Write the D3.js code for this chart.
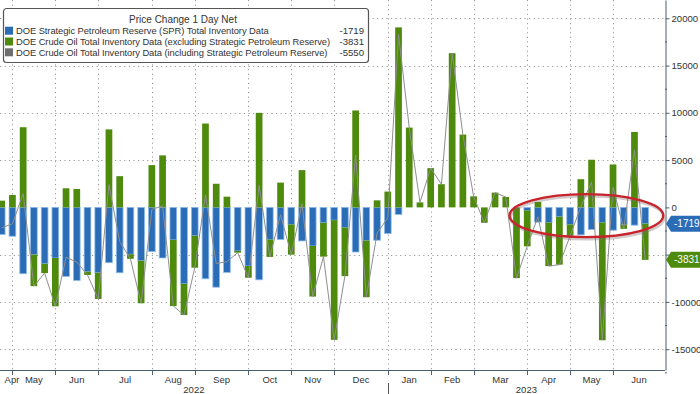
<!DOCTYPE html>
<html>
<head>
<meta charset="utf-8">
<script src="https://cdnjs.cloudflare.com/ajax/libs/d3/7.8.5/d3.min.js"></script>
<style>
body { margin: 0; background: #fff; }
svg { display: block; font-family: "Liberation Sans", Arial, sans-serif; }
.grid line { stroke: #9a9a9a; stroke-dasharray: 1.2,3.4; }
.y-axis .domain { stroke: #4d5e70; }
.y-axis .tick line { stroke: #4d5e70; }
.y-axis .tick text { fill: #333; font-size: 9.6px; }
</style>
</head>
<body>
<div id="chart-area"></div>
<script>

// Weekly changes, thousand barrels (week dates as on the chart axis)
var weeks = d3.timeFriday.range(new Date(2022, 3, 29), new Date(2023, 5, 24));

// DOE SPR weekly change
var spr = [-2870, -3050, -7020, -5000, -5960, -5350, -7300, -7730, -6800, -6915,
	-5850, -6915, -4960, -5640, -4680, -5350, -3440, -8085, -3010, -7550,
	-8440, -6880, -4610, -6200, -7660, -3400, -3400, -1810, -3550, -4080,
	-1630, -1350, -2130, -4720, -3510, -3475, -2770, -745, 0, 0,
	0, 0, 0, 0, 0, 0, 0, 0, 0, -320,
	-1560, -1600, -990, -1810, -2910, -2340, -1600, -2410, -1810, -1880,
	-1719];

// DOE crude oil ex SPR weekly change
var crude = [710, 1310, 8480, -3330, -990, -5110, 2020, 1950, -350, -2770,
	8250, 3300, -480, -4500, 4470, 5500, -7000, -3300, -3370, 8870,
	2500, 1135, -180, -1240, 10000, -1840, 2620, -3190, 3940, -5350,
	-3580, -12660, -5140, 10250, -5990, 745, 1670, 19040, 8440, 530,
	4150, 2450, 16310, 7700, 1170, -1630, 1560, 1100, -7480, -3800,
	570, -4610, -5070, -1200, 2980, 5040, -12450, 4540, -460, 7980,
	-3831];

// DOE crude oil incl SPR weekly change
var total = [-2160, -1740, 1460, -8330, -6950, -10460, -5280, -5780, -7150, -9685,
	2400, -3615, -5440, -10140, -210, 150, -10440, -11385, -6380, 1320,
	-5940, -5745, -4790, -7440, 2340, -5240, -780, -5000, 390, -9430,
	-5210, -14010, -7270, 5530, -9500, -2730, -1100, 18295, 8440, 530,
	4150, 2450, 16310, 7700, 1170, -1630, 1560, 1100, -7480, -4120,
	-990, -6210, -6060, -3010, 70, 2700, -14050, 2130, -2270, 6100,
	-5550];

var yTicks = [-15000, -10000, -5000, 5000, 10000, 15000, 20000];
var seriesNames = ["DOE Strategic Petroleum Reserve (SPR) Total Inventory Data",
	"DOE Crude Oil Total Inventory Data (excluding Strategic Petroleum Reserve)",
	"DOE Crude Oil Total Inventory Data (including Strategic Petroleum Reserve)"];
var lastValues = [-1719, -3831, -5550];
var colors = ["#2b6cb6", "#4e8a0c", "#6e6e6e"];

var width = 665, height = 370;
var stepW = 10.725;

var svg = d3.select("#chart-area").append("svg")
	.attr("width", 700)
	.attr("height", 394);

svg.append("rect").attr("width", 700).attr("height", 394).attr("fill", "#fff");

// Scales
var x = d3.scaleBand()
	.domain(weeks)
	.range([-3.66, -3.66 + weeks.length * stepW])
	.paddingInner(0.3)
	.paddingOuter(0.15);

var y = d3.scaleLinear()
	.domain([-17200, 21935])
	.range([height, 0]);

function cx(d) { return x(d) + x.bandwidth() / 2; }

// first week of each month
var monthStarts = weeks.filter(function(d, i) {
	return i > 0 && d.getMonth() != weeks[i - 1].getMonth();
});

var plot = svg.append("g");
plot.append("clipPath").attr("id", "clip")
	.append("rect").attr("width", width).attr("height", height);

// Gridlines
var grid = plot.append("g").attr("class", "grid");
grid.selectAll(".hg").data(yTicks).enter().append("line")
	.attr("x1", 0).attr("x2", width)
	.attr("y1", function(d) { return Math.round(y(d)) + 0.5; })
	.attr("y2", function(d) { return Math.round(y(d)) + 0.5; });
grid.selectAll(".vg").data(monthStarts).enter().append("line")
	.attr("y1", 0).attr("y2", height)
	.attr("x1", function(d) { return Math.round(cx(d)) + 0.5; })
	.attr("x2", function(d) { return Math.round(cx(d)) + 0.5; });

// Stacked bars
var rows = weeks.map(function(d, i) {
	return {date: d, spr: spr[i], crude: crude[i], total: total[i]};
});
var stacked = d3.stack().keys(["spr", "crude"]).offset(d3.stackOffsetDiverging)(rows);

var layers = plot.append("g").attr("clip-path", "url(#clip)")
	.selectAll(".layer").data(stacked).enter().append("g")
	.attr("class", "layer")
	.attr("fill", function(d, i) { return colors[i]; })
	.attr("stroke", function(d, i) { return i == 0 ? "#8dbbe9" : "none"; })
	.attr("stroke-width", 0.8);

layers.selectAll("rect").data(function(d) { return d; }).enter()
	.filter(function(d) { return d[1] != d[0]; })
	.append("rect")
	.attr("x", function(d) { return x(d.data.date) + 0.4; })
	.attr("width", x.bandwidth() - 0.8)
	.attr("y", function(d) { return y(Math.max(d[0], d[1])); })
	.attr("height", function(d) { return Math.abs(y(d[0]) - y(d[1])); });

// Total line
var line = d3.line()
	.x(function(d) { return cx(d.date); })
	.y(function(d) { return y(d.total); });

plot.append("path")
	.attr("clip-path", "url(#clip)")
	.attr("d", line(rows))
	.attr("fill", "none")
	.attr("stroke", "#8e8e8e")
	.attr("stroke-width", 1);

// Red ellipse annotation around the recent SPR bars
var eLeft = x(weeks[48]) - 3.2, eRight = cx(weeks[60]) + 18;
var eCy = y(-870);
plot.append("ellipse")
	.attr("cx", (eLeft + eRight) / 2 + 1).attr("cy", eCy + 2)
	.attr("rx", (eRight - eLeft) / 2).attr("ry", 21.5)
	.attr("fill", "none").attr("stroke", "#7a6a6a").attr("stroke-opacity", 0.35).attr("stroke-width", 3);
plot.append("ellipse")
	.attr("cx", (eLeft + eRight) / 2).attr("cy", eCy)
	.attr("rx", (eRight - eLeft) / 2).attr("ry", 21.5)
	.attr("fill", "none").attr("stroke", "#c9232b").attr("stroke-width", 2.4);

// Bottom axis
svg.append("line")
	.attr("x1", 0).attr("x2", width)
	.attr("y1", height + 0.5).attr("y2", height + 0.5)
	.attr("stroke", "#4d5e70");

svg.selectAll(".mtick").data(monthStarts).enter().append("line")
	.attr("x1", function(d) { return Math.round(cx(d)) + 0.5; })
	.attr("x2", function(d) { return Math.round(cx(d)) + 0.5; })
	.attr("y1", height).attr("y2", height + 5)
	.attr("stroke", "#4d5e70");

// month labels centred between month ticks
var bounds = [0].concat(monthStarts.map(cx)).concat([width]);
var monthDates = [weeks[0]].concat(monthStarts);
svg.selectAll(".mlabel").data(monthDates).enter().append("text")
	.attr("x", function(d, i) { return Math.max((bounds[i] + bounds[i + 1]) / 2, 12); })
	.attr("y", 383)
	.attr("text-anchor", "middle")
	.attr("font-size", 9.5)
	.attr("fill", "#333")
	.text(d3.timeFormat("%b"));

var jan = monthStarts.filter(function(d) { return d.getMonth() == 0; })[0];
svg.append("line")
	.attr("x1", Math.round(cx(jan)) + 0.5).attr("x2", Math.round(cx(jan)) + 0.5)
	.attr("y1", 383).attr("y2", 394)
	.attr("stroke", "#555");
svg.selectAll(".ylabel").data([[0, cx(jan), "2022"], [cx(jan), width, "2023"]]).enter().append("text")
	.attr("x", function(d) { return (d[0] + d[1]) / 2; })
	.attr("y", 393)
	.attr("text-anchor", "middle")
	.attr("font-size", 9.5)
	.attr("fill", "#333")
	.text(function(d) { return d[2]; });

// Right axis
var yAxis = d3.axisRight(y)
	.tickValues(d3.range(-15000, 20001, 5000))
	.tickSize(4)
	.tickSizeOuter(0)
	.tickPadding(2)
	.tickFormat(function(d) { return d; });

svg.append("g")
	.attr("class", "axis y-axis")
	.attr("transform", "translate(" + (width + 0.5) + ",0)")
	.call(yAxis);

svg.selectAll(".minor").data(d3.range(-17500, 21000, 2500).filter(function(d) { return d % 5000 != 0; }))
	.enter().append("line")
	.attr("x1", width).attr("x2", width + 2)
	.attr("y1", function(d) { return y(d); }).attr("y2", function(d) { return y(d); })
	.attr("stroke", "#4d5e70");

// Last value tags
var tags = [{v: lastValues[0], at: lastValues[0], c: colors[0]},
	{v: lastValues[1], at: lastValues[2], c: colors[1]}];
var tag = svg.selectAll(".tag").data(tags).enter().append("g")
	.attr("transform", function(d) { return "translate(" + width + "," + y(d.at) + ")"; });
tag.append("path")
	.attr("d", "M1,0 L6,-8 L36,-8 L36,8 L6,8 Z")
	.attr("fill", function(d) { return d.c; });
tag.append("text")
	.attr("x", 9).attr("y", 3.6)
	.attr("font-size", 10)
	.attr("fill", "#fff")
	.text(function(d) { return d.v; });

// Legend
var legend = svg.append("g");
legend.append("rect")
	.attr("x", 3.5).attr("y", 8.5).attr("width", 365).attr("height", 54).attr("rx", 3)
	.attr("fill", "#fff").attr("stroke", "#555").attr("stroke-width", 1.2);
legend.append("text")
	.attr("x", 183).attr("y", 22.5)
	.attr("text-anchor", "middle").attr("font-size", 10).attr("fill", "#333")
	.text("Price Change 1 Day Net");

var items = legend.selectAll(".item").data(seriesNames).enter().append("g")
	.attr("transform", function(d, i) { return "translate(0," + (30.7 + i * 10.8) + ")"; });
items.append("rect")
	.attr("x", 5).attr("y", -4).attr("width", 8).attr("height", 8)
	.attr("fill", function(d, i) { return colors[i]; });
var names = items.append("text")
	.attr("x", 16).attr("y", 3.6)
	.attr("font-size", 9.4).attr("fill", "#333")
	.text(function(d) { return d; });
// tighten letter spacing so the longest line fits like the condensed original
var longestNode = names.nodes().reduce(function(a, b) {
	return b.getComputedTextLength() > a.getComputedTextLength() ? b : a;
});
var spacing = (314 - longestNode.getComputedTextLength()) / longestNode.textContent.length;
names.attr("letter-spacing", spacing);
items.append("text")
	.attr("x", 364).attr("y", 3.6)
	.attr("text-anchor", "end").attr("font-size", 9.6).attr("fill", "#333")
	.text(function(d, i) { return lastValues[i]; });

</script>
</body>
</html>
